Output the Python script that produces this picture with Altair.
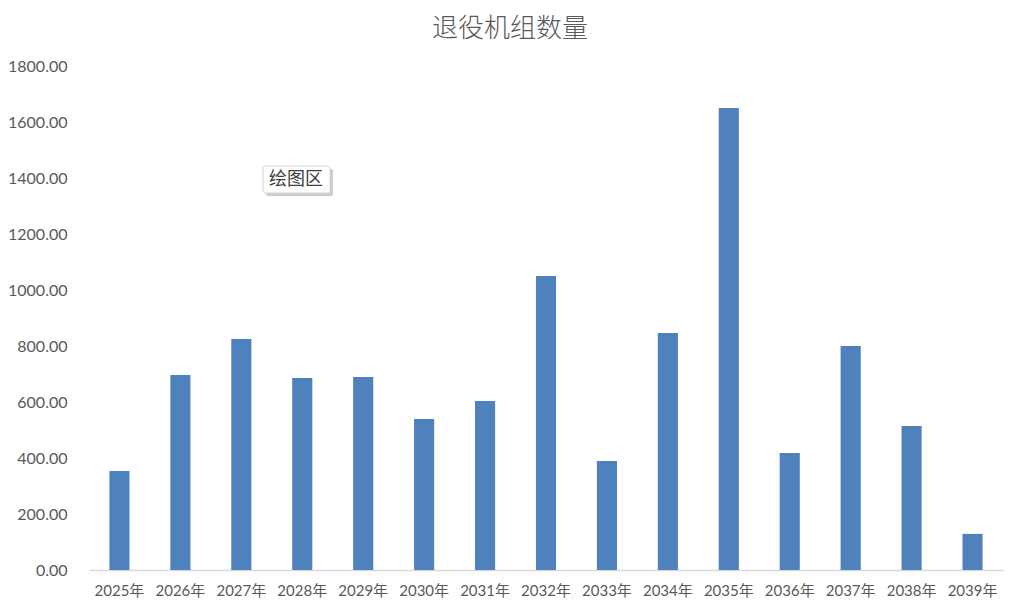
import altair as alt
import pandas as pd

years = ["2025年", "2026年", "2027年", "2028年", "2029年", "2030年", "2031年", "2032年",
         "2033年", "2034年", "2035年", "2036年", "2037年", "2038年", "2039年"]
values = [354, 696, 825, 686, 689, 539, 604, 1050, 389, 846, 1650, 418, 800, 514, 129]
y_ticks = [0, 200, 400, 600, 800, 1000, 1200, 1400, 1600, 1800]
title_text = "退役机组数量"
hover_text = "绘图区"

df = pd.DataFrame({"year": years, "value": values})

W, H = 914, 504
LABEL_FONT = "Lato, 'Noto Sans CJK SC', sans-serif"
GREY = "#595959"

bars = alt.Chart(df).mark_bar(color="#4F81BD").encode(
    x=alt.X("year:N", sort=years, title=None,
            scale=alt.Scale(paddingInner=0.67, paddingOuter=0.335),
            axis=alt.Axis(labelAngle=0, ticks=False, domainColor="#D9D9D9", domainWidth=1.5,
                          labelFont=LABEL_FONT, labelFontSize=15, labelColor=GREY,
                          labelPadding=13, grid=False)),
    y=alt.Y("value:Q", title=None,
            scale=alt.Scale(domain=[0, 1800], nice=False),
            axis=alt.Axis(values=y_ticks, format=".2f", ticks=False, domain=False, grid=False,
                          labelFont=LABEL_FONT, labelFontSize=16, labelColor=GREY,
                          labelPadding=22)),
)

shadow = alt.Chart(pd.DataFrame({"a": [1]})).mark_rect(
    color="#9A9A9A", opacity=0.5, cornerRadius=2
).encode(x=alt.value(177), x2=alt.value(244), y=alt.value(103), y2=alt.value(130))

box = alt.Chart(pd.DataFrame({"a": [1]})).mark_rect(
    fill="white", stroke="#D4D4D4", strokeWidth=1, cornerRadius=2
).encode(x=alt.value(174), x2=alt.value(241), y=alt.value(100), y2=alt.value(127))

hover = alt.Chart(pd.DataFrame({"t": [hover_text]})).mark_text(
    font="'Noto Sans CJK SC', sans-serif", fontSize=18, color="#404040",
    align="center", baseline="middle"
).encode(text="t:N", x=alt.value(207), y=alt.value(114))

chart = alt.layer(bars, shadow, box, hover).properties(
    width=W, height=H,
    background="white",
    title=alt.TitleParams(title_text, anchor="middle", dx=-36, fontSize=26,
                          font="'Noto Sans CJK SC', sans-serif", fontWeight=300,
                          color=GREY, offset=16),
    autosize=alt.AutoSizeParams(type="none"),
    padding={"left": 81, "top": 58, "right": 6, "bottom": 31},
).configure_view(strokeWidth=0)

chart.save("out.html", embed_options={"renderer": "svg", "actions": False})
